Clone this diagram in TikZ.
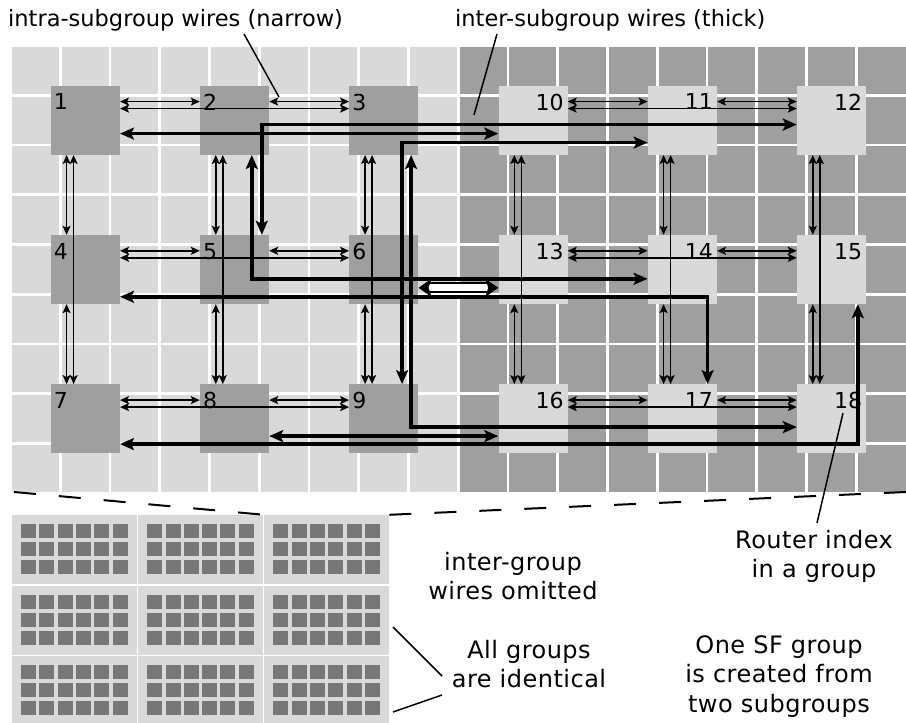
\documentclass[tikz,border=0pt]{standalone}
\usepackage{fontspec}
\setmainfont{DejaVu Sans}
\newfontfamily\notefont[LetterSpace=2]{DejaVu Sans}
\usetikzlibrary{arrows.meta}
\definecolor{cellA}{HTML}{D9D9D9}
\definecolor{cellB}{HTML}{9F9F9F}
\definecolor{chip}{HTML}{777777}

\begin{document}
\begin{tikzpicture}[x=1pt,y=-1pt,
  lrouter/.style={fill=cellB,minimum size=69pt,inner sep=0pt},
  rrouter/.style={fill=cellA,minimum size=69pt,inner sep=0pt},
  idx/.style={inner sep=0pt,font=\fontsize{22}{26}\selectfont},
  thinwire/.style={line width=1.5pt,>={Stealth[length=9pt,width=8pt,inset=2pt]},<->},
  thickwire/.style={line width=3.5pt,>={Stealth[length=14pt,width=12pt,inset=3pt]},<->},
  pointer/.style={line width=1.5pt},
  tile/.style={fill=cellA,minimum width=124.8pt,minimum height=69pt,inner sep=0pt},
  head/.style={inner sep=0pt,font=\fontsize{22.5}{27}\selectfont},
  note/.style={inner sep=0pt,align=center,font=\notefont\fontsize{24}{29.5}\selectfont}]
  % canvas 906 x 723 px, y grows downwards
  \useasboundingbox (0,0) rectangle (906,723);
  \clip (0,0) rectangle (906,723);

  % ---- floor of the group: two subgroup halves + white grid ----
  \fill[cellA] (12,47) rectangle (459,492);
  \fill[cellB] (459,47) rectangle (906,492);
  \foreach \k in {1,...,17}
    \draw[white,line width=2.75pt] (10.6+49.75*\k,47) -- ++(0,445);
  \foreach \k in {1,...,8}
    \draw[white,line width=2.75pt] (12,45.6+49.75*\k) -- ++(894,0);

  % ---- routers ----
  \foreach \n/\px/\py in {1/85.3/120.3,2/234.5/120.3,3/383.8/120.3,
                          4/85.3/269.5,5/234.5/269.5,6/383.8/269.5,
                          7/85.3/418.8,8/234.5/418.8,9/383.8/418.8}
    \node[lrouter] (r\n) at (\px,\py) {};
  \foreach \n/\px/\py in {10/533/120.3,11/682.3/120.3,12/831.5/120.3,
                          13/533/269.5,14/682.3/269.5,15/831.5/269.5,
                          16/533/418.8,17/682.3/418.8,18/831.5/418.8}
    \node[rrouter] (r\n) at (\px,\py) {};

  % router indices
  \foreach \n in {1,...,9}
    \node[idx,anchor=north west] (n\n) at ([xshift=3pt,yshift=-8pt]r\n.north west) {\n};
  \foreach \n in {10,...,18}
    \node[idx,anchor=north east] (n\n) at ([xshift=-4pt,yshift=-8pt]r\n.north east) {\n};

  % ---- intra-subgroup wires (narrow) ----
  \foreach \a/\b/\c in {1/2/3,4/5/6,7/8/9,10/11/12,13/14/15,16/17/18}{
    \draw[thinwire] ([yshift=-16pt]r\a.north east) -- ([yshift=-16pt]r\b.north west);
    \draw[thinwire] ([yshift=-16pt]r\b.north east) -- ([yshift=-16pt]r\c.north west);
    \draw[thinwire] ([yshift=-23pt]r\a.north east) -- ([yshift=-23pt]r\c.north west);
  }
  \foreach \a/\b/\c in {1/4/7,2/5/8,3/6/9,10/13/16,11/14/17,12/15/18}{
    \draw[thinwire] ([xshift=16pt]r\a.south west) -- ([xshift=16pt]r\b.north west);
    \draw[thinwire] ([xshift=16pt]r\b.south west) -- ([xshift=16pt]r\c.north west);
    \draw[thinwire] ([xshift=23pt]r\a.south west) -- ([xshift=23pt]r\c.north west);
  }

  % ---- inter-subgroup wires (thick) ----
  \draw[thickwire] ([yshift=-48pt]r1.north east) -- ([yshift=-48pt]r10.north west);
  \draw[thickwire] ([xshift=62pt]r5.north west) |- ([yshift=-39pt]r12.north west);
  \draw[thickwire] ([xshift=53pt]r9.north west) |- ([yshift=-57pt]r11.north west);
  \draw[thickwire] ([xshift=52pt]r2.south west) |- ([yshift=-44pt]r14.north west);
  \draw[thickwire] ([xshift=62pt]r3.south west) |- ([yshift=-43pt]r18.north west);
  \draw[thickwire] ([yshift=-62pt]r4.north east) -| ([xshift=60pt]r17.north west);
  \draw[thickwire] ([yshift=-52pt]r8.north east) -- ([yshift=-52pt]r16.north west);
  \draw[thickwire] ([yshift=-60pt]r7.north east) -| ([xshift=61pt]r15.south west);
  \draw[thickwire,line width=2pt,double=white,double distance=7pt,
        >={Stealth[length=13pt,width=18pt,inset=3pt]}]
    ([yshift=-53pt]r6.north east) -- ([yshift=-53pt]r13.north west);

  % ---- all groups (small) ----
  \foreach \c in {0,1,2}{
    \foreach \r in {0,1,2}{
      \node[tile] (t\r\c) at (74.4+126.2*\c,549.5+70.5*\r) {};
      \foreach \a in {0,...,5}
        \foreach \b in {0,1,2}
          \fill[chip] (21+126.2*\c+18.3*\a,524+70.5*\r+18*\b) rectangle ++(15,14);
    }
  }
  % zoom lines
  \coordinate (gridsw) at (14,492);
  \coordinate (gridse) at (906,492);
  \draw[line width=2pt,dash pattern=on 22pt off 23pt] (gridsw) -- (t02.north west);
  \draw[line width=2pt,dash pattern=on 22pt off 23pt] (t02.north east) -- (gridse);

  % ---- labels ----
  \node[head,anchor=base west] (intratxt) at (8,26) {intra-subgroup wires (narrow)};
  \node[head,anchor=base west] (intertxt) at (455,26) {inter-subgroup wires (thick)};
  \coordinate (intratop) at (244,34);
  \coordinate (intraend) at (279,97);
  \coordinate (intertop) at (497,34);
  \coordinate (interend) at (474,115);
  \draw[pointer] (intratop) -- (intraend);
  \draw[pointer] (intertop) -- (interend);

  \node[note,anchor=north] (omittxt) at (513,552) {inter-group\\wires omitted};
  \node[note,anchor=north] (identtxt) at (529,640) {All groups\\are identical};
  \node[note,anchor=north] (routertxt) at (814,530) {Router index\\in a group};
  \node[note,anchor=north] (sftxt) at (779,635) {One SF group\\is created from\\two subgroups};

  \coordinate (routertip) at (817,523);
  \draw[pointer] ([xshift=-5pt,yshift=-4pt]n18.south) -- (routertip);
  \coordinate (identA) at (442,676);
  \coordinate (identB) at (442,695);
  \coordinate (tileA) at (393,627);
  \coordinate (tileB) at (393,712);
  \draw[pointer] (identA) -- (tileA);
  \draw[pointer] (identB) -- (tileB);
\end{tikzpicture}
\end{document}
